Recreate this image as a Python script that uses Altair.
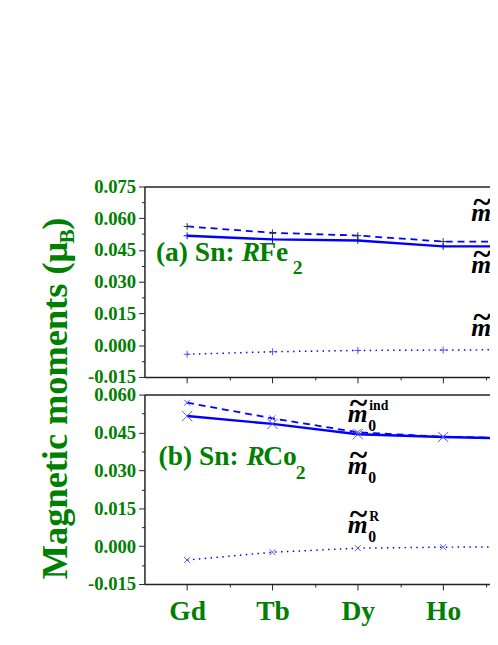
import json
import altair as alt
import pandas as pd

# ---------------- data ----------------
elements = ["Gd", "Tb", "Dy", "Ho", "Er"]

# (a) Sn in RFe2
fe_ind = [0.0561, 0.0531, 0.0518, 0.0490, 0.0488]
fe_tot = [0.0517, 0.0500, 0.0495, 0.0467, 0.0467]
fe_R = [-0.0043, -0.0031, -0.0025, -0.0023, -0.0021]

# (b) Sn in RCo2
co_ind = [0.0568, 0.0506, 0.0451, 0.0433, 0.0427]
co_tot = [0.0515, 0.0484, 0.0443, 0.0432, 0.0425]
co_R = [-0.0055, -0.0024, -0.0008, -0.0004, -0.0002]

# axis ticks
y_major_a = [-0.015, 0.0, 0.015, 0.03, 0.045, 0.06, 0.075]
y_minor_a = [-0.0075, 0.0075, 0.0225, 0.0375, 0.0525, 0.0675]
y_major_b = [-0.015, 0.0, 0.015, 0.03, 0.045, 0.06]
y_minor_b = [-0.0075, 0.0075, 0.0225, 0.0375, 0.0525]
x_major = [0, 1, 2, 3]
x_minor = [0.5, 1.5, 2.5, 3.5]

# ---------------- styling ----------------
GREEN = "#008000"
BLUE = "#0000ff"
LBLUE = "#5555ff"
AXC = "#222222"
FONT = "Liberation Serif"

W = 352
HA = 194
HB = 193
X_DOMAIN = [-0.5, 3.549]

PLUS = "M-1,0L1,0M0,-1L0,1"
CROSS = "M-1,-1L1,1M-1,1L1,-1"

xscale = alt.Scale(domain=X_DOMAIN, nice=False, zero=False)

y_label_expr = "replace(format(datum.value, '.3f'), '\u2212', '-')"
x_label_expr = json.dumps(elements) + "[round(datum.value)]"


def y_major(ticks):
    return alt.Axis(
        values=ticks, orient="left", title=None, grid=False,
        domainColor=AXC, domainWidth=1.5, tickColor=AXC, tickWidth=1,
        tickSize=6, labelExpr=y_label_expr, labelFont=FONT, labelFontSize=19,
        labelFontWeight="bold", labelColor=GREEN, labelPadding=3,
        labelOverlap=False, labelFlush=False,
    )


def y_minor(ticks):
    return alt.Axis(
        values=ticks, orient="left", title=None, grid=False, domain=False,
        labels=False, tickColor=AXC, tickWidth=1, tickSize=3,
    )


def x_major_axis(show_labels):
    kw = dict(
        values=x_major, orient="bottom", title=None, grid=False,
        domainColor=AXC, domainWidth=1.5, tickColor=AXC, tickWidth=1,
        tickSize=6, labelOverlap=False, labelFlush=False,
    )
    if show_labels:
        kw.update(labelExpr=x_label_expr, labelFont=FONT, labelFontSize=28,
                  labelFontWeight="bold", labelColor=GREEN, labelPadding=8)
    else:
        kw.update(labels=False)
    return alt.Axis(**kw)


x_minor_axis = alt.Axis(values=x_minor, orient="bottom", title=None, grid=False,
                        domain=False, labels=False, tickColor=AXC, tickWidth=1,
                        tickSize=3)

top_axis = alt.Axis(orient="top", title=None, grid=False, ticks=False,
                    labels=False, domainColor=AXC, domainWidth=1.5)


def df_of(vals):
    return pd.DataFrame({"idx": list(range(len(elements))), "el": elements, "v": vals})


def line(vals, yscale, dash, width, xax=None, yax=None):
    kw = dict(color=BLUE, strokeWidth=width, clip=True)
    if dash:
        kw["strokeDash"] = dash
    return alt.Chart(df_of(vals)).mark_line(**kw).encode(
        x=alt.X("idx:Q", scale=xscale, axis=xax, title=None),
        y=alt.Y("v:Q", scale=yscale, axis=yax, title=None),
    )


def points(vals, yscale, shape, size, color, yax=None):
    return alt.Chart(df_of(vals)).mark_point(
        shape=shape, filled=False, size=size, color=color, strokeWidth=1,
        opacity=1, clip=True
    ).encode(
        x=alt.X("idx:Q", scale=xscale, axis=None),
        y=alt.Y("v:Q", scale=yscale, axis=yax, title=None),
    )


def txt(text, x, y, size, color="black", style="normal", weight="bold",
        align="left", angle=0, clip=False):
    kw = dict(font=FONT, fontSize=size, fontWeight=weight, fontStyle=style,
              color=color, align=align, baseline="alphabetic", clip=clip)
    if angle:
        kw["angle"] = angle
    return alt.Chart(pd.DataFrame({"t": [text]})).mark_text(**kw).encode(
        x=alt.value(x), y=alt.value(y), text="t:N")


def m_tilde(x0, y0, sup=None, clip=False):
    parts = [
        txt("~", x0 + 1, y0 - 8, 34, style="italic", clip=clip),
        txt("m", x0, y0, 26, style="italic", clip=clip),
        txt("0", x0 + 21, y0 + 10, 16, clip=clip),
    ]
    if sup:
        parts.append(txt(sup, x0 + 22, y0 - 12, 14, clip=clip))
    return parts


# ---------------- panel (a) ----------------
ys_a = alt.Scale(domain=[-0.015, 0.075], nice=False, zero=False)
layers_a = [
    line(fe_R, ys_a, [1.5, 4.5], 1.5, xax=x_minor_axis),
    line(fe_ind, ys_a, [7, 5], 1.8, xax=top_axis),
    line(fe_tot, ys_a, None, 2.5, xax=x_major_axis(False), yax=y_major(y_major_a)),
    points(fe_R, ys_a, PLUS, 49, LBLUE, yax=y_minor(y_minor_a)),
    points(fe_ind, ys_a, PLUS, 49, "#333333"),
    points(fe_tot, ys_a, PLUS, 49, BLUE),
    txt("(a) Sn:", 91.8, 75.7, 28, color=GREEN, align="right"),
    txt("R", 99, 75.7, 28, color=GREEN, style="italic"),
    txt("Fe", 117, 75.7, 28, color=GREEN),
    txt("2", 151, 89, 20, color=GREEN),
    # y title spanning both panels
    txt("Magnetic moments (\u03bc", -78.7, 400, 37, color=GREEN, angle=270),
    txt("B", -71.7, 58, 22, color=GREEN, angle=270),
    txt(")", -78.7, 44, 37, color=GREEN, angle=270),
]
layers_a += m_tilde(333, 35, "ind", clip=True)
layers_a += m_tilde(333, 88, clip=True)
layers_a += m_tilde(333, 152, "R", clip=True)

panel_a = alt.layer(*layers_a).resolve_axis(x="independent", y="independent").properties(
    width=W, height=HA)

# ---------------- panel (b) ----------------
ys_b = alt.Scale(domain=[-0.015, 0.060], nice=False, zero=False)
layers_b = [
    line(co_R, ys_b, [1.5, 4.5], 1.5, xax=x_minor_axis),
    line(co_ind, ys_b, [7, 5], 1.8, xax=top_axis),
    line(co_tot, ys_b, None, 2.5, xax=x_major_axis(True), yax=y_major(y_major_b)),
    points(co_R, ys_b, CROSS, 36, LBLUE, yax=y_minor(y_minor_b)),
    points(co_ind, ys_b, CROSS, 36, LBLUE),
    points(co_tot, ys_b, CROSS, 110, LBLUE),
    txt("(b) Sn:", 96, 71.5, 28, color=GREEN, align="right"),
    txt("R", 104, 71.5, 28, color=GREEN, style="italic"),
    txt("Co", 121, 71.5, 28, color=GREEN),
    txt("2", 154, 85.5, 20, color=GREEN),
]
layers_b += m_tilde(207, 27.5, "ind")
layers_b += m_tilde(207, 80.5)
layers_b += m_tilde(207, 140.5, "R")

panel_b = alt.layer(*layers_b).resolve_axis(x="independent", y="independent").properties(
    width=W, height=HB)

chart = alt.vconcat(panel_a, panel_b, spacing=18, bounds="flush").properties(
    padding={"left": 30, "top": 167, "right": 0, "bottom": 0},
    background="white",
).configure_view(stroke=None)

chart.save("out.html", embed_options={"renderer": "svg", "actions": False})
